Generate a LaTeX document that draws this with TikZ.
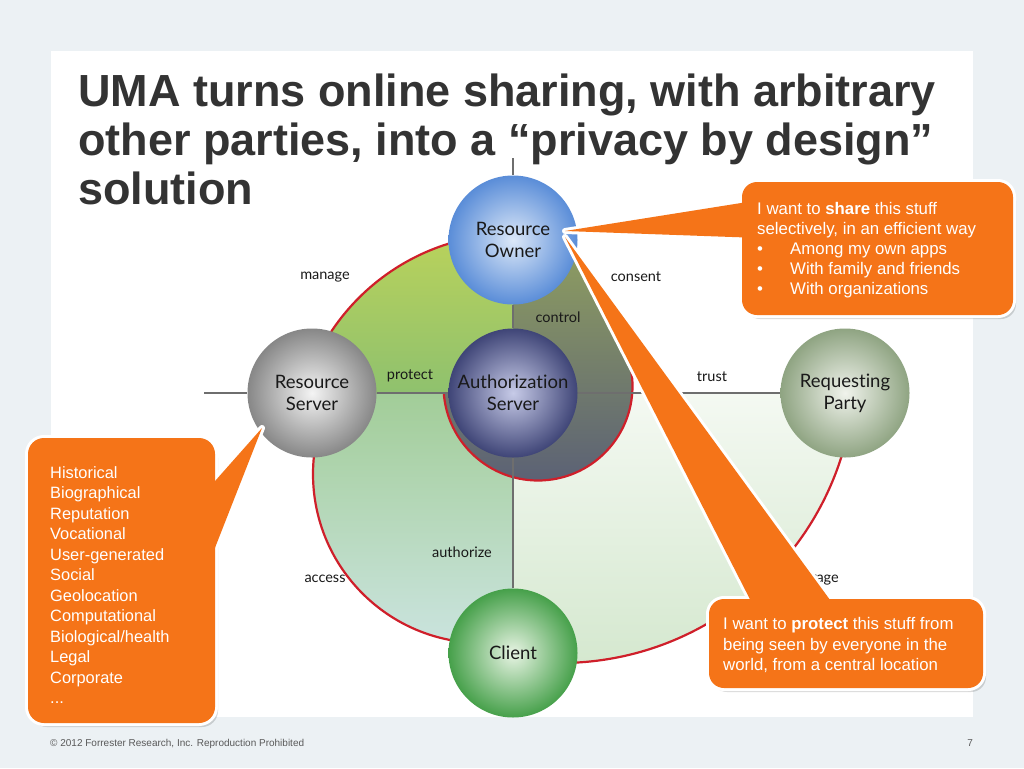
\documentclass[tikz,border=0pt]{standalone}
\usepackage{fontspec}
\setmainfont{Liberation Sans}
\newfontfamily\gill[Ligatures=NoCommon]{Lato}
\usetikzlibrary{positioning}
\definecolor{bggray}{HTML}{ECF1F4}
\definecolor{titlegray}{HTML}{333333}
\definecolor{callout}{HTML}{F57418}
\definecolor{edgered}{HTML}{CF1F2A}
\definecolor{axisgray}{HTML}{6E6E6E}
\definecolor{tltop}{HTML}{BCD35A}
\definecolor{tlbot}{HTML}{8FC16E}
\definecolor{bltop}{HTML}{A2CD98}
\definecolor{blbot}{HTML}{CDE5E3}
\definecolor{brtop}{HTML}{F4F9F2}
\definecolor{brbot}{HTML}{D3E7CD}
\definecolor{darktop}{HTML}{92A25F}
\definecolor{darkmid}{HTML}{717C67}
\definecolor{darkbot}{HTML}{5B6175}
\definecolor{roin}{HTML}{DCE8F8}
\definecolor{roout}{HTML}{5A8DD8}
\definecolor{rsin}{HTML}{F4F4F4}
\definecolor{rsout}{HTML}{878787}
\definecolor{asin}{HTML}{C7CBE8}
\definecolor{asout}{HTML}{3F4577}
\definecolor{rpin}{HTML}{F0F3EC}
\definecolor{rpout}{HTML}{8FA482}
\definecolor{clin}{HTML}{E8F4E4}
\definecolor{clout}{HTML}{46A04A}

\begin{document}
\begin{tikzpicture}[x=1pt, y=-1pt,
	actor/.style={circle, minimum size=129pt, inner sep=0pt, align=center, text=black!90, font=\gill\fontsize{18.5}{22}\selectfont},
	rel/.style={inner sep=1pt, text=black!90, font=\gill\fontsize{14.5}{16}\selectfont},
	axis/.style={draw=axisgray, line width=2.5pt},
	rim/.style={draw=edgered, line width=2.2pt},
	bubble/.style={fill=callout},
	bubbleedge/.style={draw=white, line width=6pt, line join=round},
	bubbleshadow/.style={fill=black, opacity=.15},
	bubbletext/.style={anchor=base west, inner sep=0pt, text=white, font=\fontsize{16.8}{20}\selectfont},
	titleline/.style={anchor=base west, inner sep=0pt, text=titlegray, font=\bfseries\fontsize{45}{49}\selectfont}]
		\useasboundingbox (0,0) rectangle (1024,768);
		\fill[bggray] (0,0) rectangle (1024,768);
		\fill[white] (51,51) rectangle (973,717);
		
		\node[titleline] (t1) at (78,106) {UMA turns online sharing, with arbitrary};
		\node[titleline] (t2) at (78,155) {other parties, into a “privacy by design”};
		\node[titleline] (t3) at (78,204) {solution};
		
		\begin{scope}
			\clip (513,393) rectangle (870,680);
			\clip (560,368) circle[radius=295];
			\shade[top color=brtop, bottom color=brbot] (513,393) rectangle (870,680);
		\end{scope}
		\begin{scope}
			\clip (513,393) rectangle (870,680);
			\draw[rim] (560,368) circle[radius=295];
		\end{scope}
		\begin{scope}
			\clip (300,393) rectangle (513,660);
			\clip (482,474) circle[radius=169];
			\shade[top color=bltop, bottom color=blbot] (300,393) rectangle (513,660);
		\end{scope}
		\begin{scope}
			\clip (300,393) rectangle (513,660);
			\draw[rim] (482,474) circle[radius=169];
		\end{scope}
		\begin{scope}
			\clip (513,393) rectangle (650,220);
			\clip (513,393) ellipse[x radius=119, y radius=163];
			\shade[top color=darktop, middle color=darkmid, bottom color=darkbot] (440,228) rectangle (636,482);
		\end{scope}
		\begin{scope}
			\clip (538,386) circle[radius=94.5];
			\shade[top color=darktop, middle color=darkmid, bottom color=darkbot] (440,228) rectangle (636,482);
		\end{scope}
		\begin{scope}
			\clip (430,370) rectangle (650,490);
			\draw[rim] (538,386) circle[radius=94.5];
		\end{scope}
		\begin{scope}
			\clip (290,225) rectangle (513,393);
			\clip (513,452) circle[radius=218];
			\shade[top color=tltop, bottom color=tlbot] (290,225) rectangle (513,393);
		\end{scope}
		\begin{scope}
			\clip (290,225) rectangle (513,393);
			\draw[rim] (513,452) circle[radius=218];
		\end{scope}
		
		\node[rel] (manage) at (325,277) {manage};
		\node[rel] (consent) at (636,277) {consent};
		\node[rel] (control) at (558,317) {control};
		\node[rel] (protect) at (410,376) {protect};
		\node[rel] (trust) at (712,377) {trust};
		\node[rel] (authorize) at (462,552) {authorize};
		\node[rel] (access) at (325,579) {access};
		\node[rel, anchor=east] (storage) at (840,579) {storage};
		
		\node[actor, inner color=roin, outer color=roout] (ro) at (513,240) {Resource\\Owner};
		\node[actor, inner color=rsin, outer color=rsout] (rs) at (312,393) {Resource\\Server};
		\node[actor, inner color=asin, outer color=asout] (as) at (513,393) {Authorization\\Server};
		\node[actor, inner color=rpin, outer color=rpout] (rp) at (845,393) {Requesting\\Party};
		\node[actor, inner color=clin, outer color=clout] (cl) at (513,653) {Client};
		
		\coordinate (west) at (204,393);
		\coordinate (north) at (513,158);
		\draw[axis] (west) -- (rs);
		\draw[axis] (rs) -- (as);
		\draw[axis] (as) -- (rp);
		\draw[axis] (north) -- (ro);
		\draw[axis] (ro) -- (as);
		\draw[axis] (as) -- (cl);
		
		\coordinate (sharetip) at (565,231);
		\coordinate (protecttip) at (565,237);
		\coordinate (datatip) at (262,428);
		
		\path[bubbleshadow, rounded corners=15pt] (745,186) rectangle (1016,319);
		\path[bubbleshadow, rounded corners=15pt] (712,603) rectangle (986,692);
		\path[bubbleshadow, rounded corners=16pt] (31,442) rectangle (218,727);
		
		\path[bubbleedge, rounded corners=15pt] (742,182) rectangle (1013,315);
		\path[bubbleedge] (760,200) -- (sharetip) -- (760,238) -- cycle;
		\path[bubble, rounded corners=15pt] (742,182) rectangle (1013,315);
		\path[bubble] (760,200) -- (sharetip) -- (760,238) -- cycle;
		
		\path[bubbleedge, rounded corners=15pt] (709,599) rectangle (983,688);
		\path[bubbleedge] (758,615) -- (protecttip) -- (841,615) -- cycle;
		\path[bubble, rounded corners=15pt] (709,599) rectangle (983,688);
		\path[bubble] (758,615) -- (protecttip) -- (841,615) -- cycle;
		
		\path[bubbleedge, rounded corners=16pt] (28,438) rectangle (215,723);
		\path[bubbleedge] (200,498) -- (datatip) -- (200,586) -- cycle;
		\path[bubble, rounded corners=16pt] (28,438) rectangle (215,723);
		\path[bubble] (200,498) -- (datatip) -- (200,586) -- cycle;
		
		\node[bubbletext] (share1) at (757,214) {I want to \textbf{share} this stuff};
		\node[bubbletext] (share2) at (757,234) {selectively, in an efficient way};
		\foreach \t [count=\i] in {Among my own apps, With family and friends, With organizations} {
			\node[bubbletext] (dot\i) at (757,{234+20*\i}) {•};
			\node[bubbletext] (item\i) at (790,{234+20*\i}) {\t};
		}
		
		\node[bubbletext] (protect1) at (723,629) {I want to \textbf{protect} this stuff from};
		\node[bubbletext] (protect2) at (723,650) {being seen by everyone in the};
		\node[bubbletext] (protect3) at (723,670) {world, from a central location};
		
		\foreach \t [count=\i] in {Historical, Biographical, Reputation, Vocational, User-generated, Social, Geolocation, Computational, Biological/health, Legal, Corporate} {
			\node[bubbletext, font=\fontsize{16.4}{20}\selectfont] (data\i) at (50,{457.5+20.5*\i}) {\t};
		}
		\node[bubbletext, font=\fontsize{16.4}{20}\selectfont] (more) at (50,703) {...};
		
		\node[anchor=base west, inner sep=0pt, text=black!65, font=\fontsize{10}{12}\selectfont] (foot) at (50,746) {© 2012 Forrester Research, Inc. Reproduction Prohibited};
		\node[anchor=base east, inner sep=0pt, text=black!65, font=\fontsize{10}{12}\selectfont] (page) at (973,746) {7};
	\end{tikzpicture}
\end{document}
